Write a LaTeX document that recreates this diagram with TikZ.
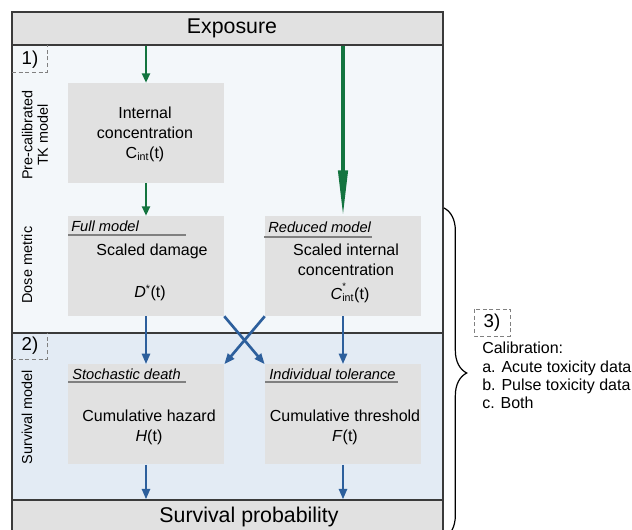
\documentclass[tikz,border=0pt]{standalone}
\usepackage{fontspec}
\setmainfont{Liberation Sans}
\usetikzlibrary{arrows.meta,decorations.pathreplacing}
\definecolor{boxgray}{HTML}{E1E1E1}
\definecolor{toppanel}{HTML}{F3F7FA}
\definecolor{lowpanel}{HTML}{E3EBF4}
\definecolor{arrgreen}{HTML}{13743F}
\definecolor{arrblue}{HTML}{2D5F9C}
\definecolor{framegray}{HTML}{3A3A3A}

\begin{document}
\begin{tikzpicture}[x=0.75pt,y=-0.75pt,
  modelbox/.style={fill=boxgray,minimum width=117pt,minimum height=75pt,inner sep=0pt},
  bandbox/.style={fill=boxgray,draw=framegray,line width=0.8pt,minimum width=323.25pt,inner sep=0pt},
  bigtxt/.style={font=\fontsize{16}{18}\selectfont,inner sep=0pt},
  txt/.style={font=\fontsize{12}{15}\selectfont,align=center,inner sep=0pt},
  hdr/.style={font=\fontsize{11}{13}\selectfont\itshape,anchor=west,inner sep=0pt},
  uline/.style={draw=gray,line width=1.1pt},
  sidelbl/.style={font=\fontsize{10.8}{11.5}\selectfont,rotate=90,align=center,inner sep=0pt},
  numtag/.style={font=\fontsize{14}{16}\selectfont,inner sep=0pt},
  tagbox/.style={draw=gray,densely dashed,line width=0.6pt},
  garrow/.style={draw=arrgreen,line width=1.5pt,-{Triangle[length=7pt,width=6pt]}},
  gthick/.style={draw=arrgreen,line width=2.4pt,-{Triangle[length=34pt,width=7pt]}},
  barrow/.style={draw=arrblue,line width=2pt,-{Triangle[length=8pt,width=6pt]}}
]
\useasboundingbox (0,0) rectangle (632,530);

% panels and frame
\fill[toppanel] (12,45) rectangle (443,333);
\fill[lowpanel] (12,333) rectangle (443,500);
\draw[framegray,line width=0.8pt] (12,12) rectangle (443,560);
\draw[framegray,line width=0.8pt] (12,333) -- (443,333);
\node[bandbox,minimum height=24.75pt] (expo) at (227.5,28.5) {};
\node[bandbox,minimum height=25.5pt] (surv) at (227.5,517) {};
\node[bigtxt] (expolbl) at (232,28) {Exposure};
\node[bigtxt] (survlbl) at (249,517) {Survival probability};

% section tags
\draw[tagbox] (12,72) -- (47,72) -- (47,45);
\node[numtag] (tag1) at (30,60) {1)};
\draw[tagbox] (12,359) -- (47,359) -- (47,333);
\node[numtag] (tag2) at (30,346) {2)};
\draw[tagbox] (474,309) rectangle (510,336);
\node[numtag] (tag3) at (492,323) {3)};

% side labels
\node[sidelbl] (tklbl) at (35,135) {Pre-calibrated\\TK model};
\node[sidelbl] (doselbl) at (27,265) {Dose metric};
\node[sidelbl] (survmod) at (27,417) {Survival model};

% model boxes
\node[modelbox] (intc) at (146,133) {};
\node[modelbox] (full) at (146,266) {};
\node[modelbox] (reduced) at (343,266) {};
\node[modelbox] (stoch) at (146,414.5) {};
\node[modelbox] (toler) at (343,414.5) {};

\node[txt] (intctxt) at (145,134) {Internal\\concentration\\C\textsubscript{int}(t)};

\node[hdr] (fullhd) at (71,226) {Full model};
\draw[uline] (68,235) -- (186,235);
\node[txt] (fulltxt) at (152,251) {Scaled damage};
\node[txt] (fullsym) at (150,293) {\textit{D}\textsuperscript{*}(t)};

\node[hdr] (redhd) at (268,227) {Reduced model};
\draw[uline] (264,237) -- (372,237);
\node[txt] (redtxt) at (346,260) {Scaled internal\\concentration};
\node[txt] (redsym) at (350,293) {\textit{C}\rlap{\raisebox{1.1ex}{\fontsize{7}{7}\selectfont *}}\textsubscript{int}(t)};

\node[hdr] (stochhd) at (72,374) {Stochastic death};
\draw[uline] (68,382) -- (186,382);
\node[txt] (stochtxt) at (149,427) {Cumulative hazard\\\textit{H}(t)};

\node[hdr] (tolhd) at (269,374) {Individual tolerance};
\draw[uline] (265,382) -- (398,382);
\node[txt] (toltxt) at (345,427) {Cumulative threshold\\\textit{F}(t)};

% arrows
\draw[garrow] (expo.south -| intc.north) -- (intc.north);
\draw[gthick] (expo.south -| reduced.north) -- (reduced.north);
\draw[garrow] (intc.south) -- (full.north);
\draw[barrow] (full.south) -- (stoch.north);
\draw[barrow] (reduced.south) -- (toler.north);
\draw[barrow] (full.south east) -- (toler.north west);
\draw[barrow] (reduced.south west) -- (stoch.north east);
\draw[barrow] (stoch.south) -- (surv.north -| stoch.south);
\draw[barrow] (toler.south) -- (surv.north -| toler.south);

% calibration
\draw[line width=0.9pt,decorate,decoration={brace,amplitude=17pt}] (444,208) -- (444,538);
\node[font=\fontsize{12}{13.75}\selectfont,align=left,anchor=north west,inner sep=0pt] (calib) at (482,342)
  {Calibration:\\a. Acute toxicity data\\b. Pulse toxicity data\\c. Both};

\end{tikzpicture}
\end{document}
